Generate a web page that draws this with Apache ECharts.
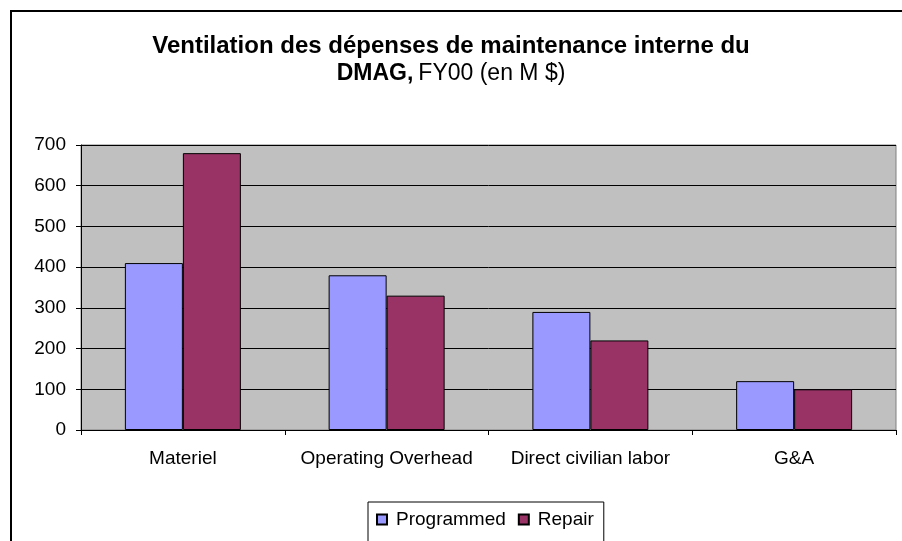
<!DOCTYPE html>
<html>
<head>
<meta charset="utf-8">
<script src="https://cdn.jsdelivr.net/npm/echarts@6/dist/echarts.min.js"></script>
<style>
  html, body { margin: 0; padding: 0; background: #fff; }
  #chart { width: 902px; height: 541px; }
</style>
</head>
<body>
<div id="chart"></div>
<script>
const categories = ['Materiel', 'Operating Overhead', 'Direct civilian labor', 'G&A']
const programmed = [410, 380, 290, 120]
const repair = [680, 330, 220, 100]
const yTicks = [0, 100, 200, 300, 400, 500, 600, 700]

const font = 'Arial, "Liberation Sans", sans-serif'

const chart = echarts.init(document.getElementById('chart'), null, { renderer: 'canvas' })

chart.setOption({
  animation: false,
  backgroundColor: '#fff',
  title: [
    {
      text: 'Ventilation des dépenses de maintenance interne du',
      left: 'center',
      top: 34,
      padding: 0,
      textStyle: { fontFamily: font, fontSize: 24, fontWeight: 'bold', color: '#000' },
    },
    {
      text: '{b|DMAG,} {n|FY00 (en M $)}',
      left: 'center',
      top: 62,
      padding: 0,
      textStyle: {
        rich: {
          b: { fontFamily: font, fontSize: 23, fontWeight: 'bold', color: '#000' },
          n: { fontFamily: font, fontSize: 23, fontWeight: 'normal', color: '#000' },
        },
      },
    },
  ],
  graphic: [
    {
      type: 'rect',
      shape: { x: 11, y: 11, width: 1000, height: 1000 },
      style: { fill: 'none', stroke: '#000', lineWidth: 2 },
      silent: true,
    },
  ],
  legend: {
    data: ['Programmed', 'Repair'],
    left: 368,
    top: 502,
    padding: [8, 10, 20, 8],
    itemGap: 12,
    itemWidth: 10,
    itemHeight: 10,
    borderColor: '#000',
    borderWidth: 1,
    icon: 'rect',
    textStyle: { fontFamily: font, fontSize: 19, color: '#000', padding: [0, 0, 0, 4] },
  },
  grid: {
    left: 81,
    right: 6,
    top: 145,
    bottom: 111,
    show: true,
    backgroundColor: '#C0C0C0',
    borderColor: '#808080',
    borderWidth: 1,
  },
  xAxis: {
    type: 'category',
    data: categories,
    axisLine: { lineStyle: { color: '#000', width: 1 } },
    axisTick: { show: true, length: 5, lineStyle: { color: '#000' } },
    axisLabel: { fontFamily: font, fontSize: 19, color: '#000', margin: 19, interval: 0 },
  },
  yAxis: {
    type: 'value',
    min: yTicks[0],
    max: yTicks[yTicks.length - 1],
    interval: 100,
    axisLine: { show: true, lineStyle: { color: '#000', width: 1 } },
    axisTick: { show: true, length: 5, lineStyle: { color: '#000' } },
    axisLabel: { fontFamily: font, fontSize: 19, color: '#000', margin: 15 },
    splitLine: { show: true, lineStyle: { color: '#000', width: 1 } },
  },
  series: [
    {
      name: 'Programmed',
      type: 'bar',
      data: programmed,
      barWidth: 58,
      barGap: '0%',
      itemStyle: { color: '#9999FF', borderColor: '#000', borderWidth: 1 },
    },
    {
      name: 'Repair',
      type: 'bar',
      data: repair,
      barWidth: 58,
      barGap: '0%',
      itemStyle: { color: '#993366', borderColor: '#000', borderWidth: 1 },
    },
  ],
})
</script>
</body>
</html>
